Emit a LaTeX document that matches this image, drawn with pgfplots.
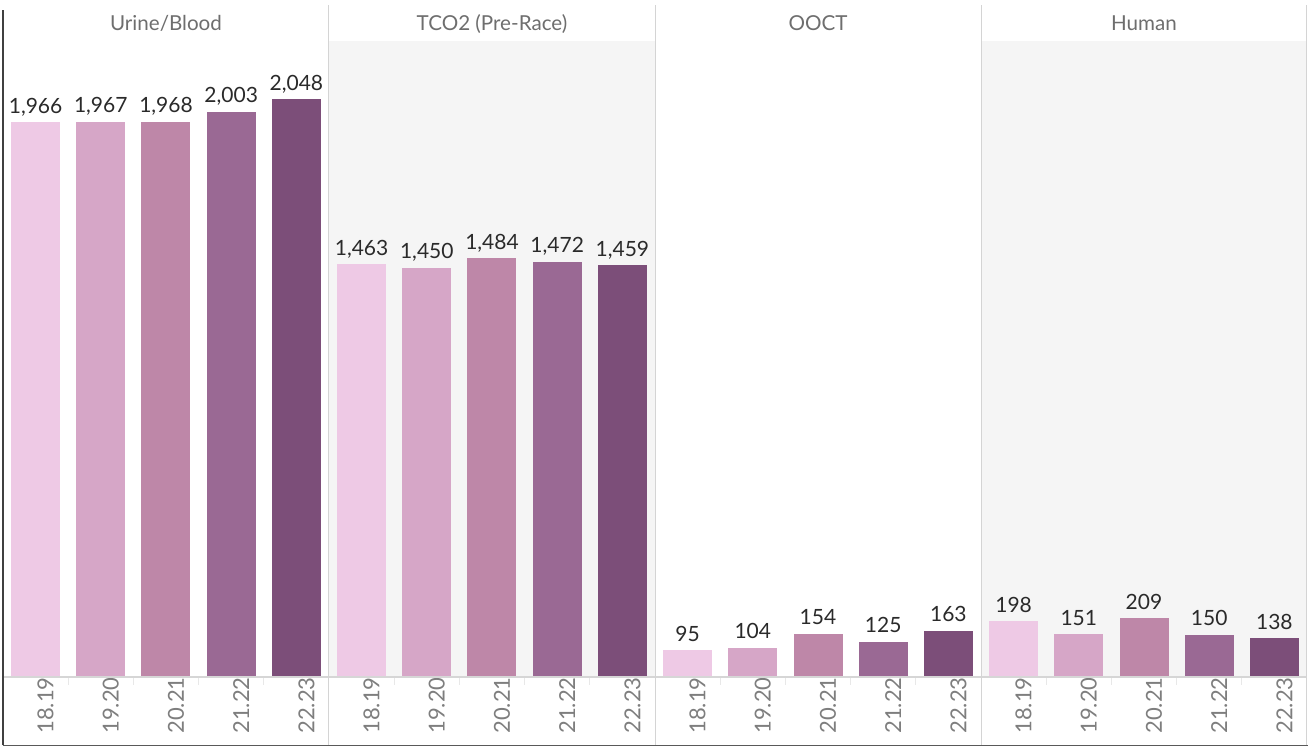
\documentclass[border=0pt]{standalone}
\usepackage{fontspec}
\setmainfont{Lato}
\usepackage{pgfplots}
\pgfplotsset{compat=1.18}
\definecolor{c1}{HTML}{EEC9E5}
\definecolor{c2}{HTML}{D6A6C7}
\definecolor{c3}{HTML}{BE87A8}
\definecolor{c4}{HTML}{9A6994}
\definecolor{c5}{HTML}{7C4E79}
\definecolor{bggray}{HTML}{F5F5F5}
\definecolor{sepgray}{HTML}{D4D4D4}
\definecolor{basegray}{HTML}{D6D6D6}
\definecolor{tickgray}{HTML}{E8E8E8}
\definecolor{headtext}{HTML}{6E6E6E}
\definecolor{ticktext}{HTML}{7E7E7E}
\definecolor{valtext}{HTML}{2A2A2A}
\pgfplotsset{
  panel/.style={
    width=163pt, height=318pt, scale only axis,
    anchor=south west,
    ybar, bar width=24.5pt, bar shift=0pt,
    xmin=-0.5, xmax=4.5, ymin=0, ymax=2254,
    enlargelimits=false,
    axis line style={draw=none},
    xtick={0,...,4},
    xticklabels={18.19,19.20,20.21,21.22,22.23},
    ytick=\empty,
    xtick pos=bottom,
    major tick length=0pt,
    extra x ticks={0.5,1.5,2.5,3.5},
    extra x tick labels={},
    extra x tick style={major tick length=4pt, tick align=outside, tick style={draw=tickgray, line width=0.6pt}},
    xticklabel style={rotate=90, anchor=east, font=\fontsize{11}{12}\selectfont, text=ticktext, inner sep=0pt, yshift=-5pt},
    nodes near coords,
    every node near coord/.append style={font=\fontsize{10.5}{12}\selectfont, text=valtext, anchor=base, yshift=4.5pt, inner sep=0pt},
    /pgf/number format/1000 sep={,},
    /pgf/number format/assume math mode=true,
    clip=false,
  },
  every axis plot/.append style={draw=none},
}
\begin{document}
\begin{tikzpicture}[x=0.5pt,y=0.5pt]
\useasboundingbox (0,0) rectangle (1308,747);
\fill[white] (0,0) rectangle (1308,747);
\fill[bggray] (329,70) rectangle (655,706);
\fill[bggray] (981,70) rectangle (1306,706);

\begin{axis}[panel, at={(1.5pt,35pt)}]
\addplot[fill=c1] coordinates {(0,1966)};
\addplot[fill=c2] coordinates {(1,1967)};
\addplot[fill=c3] coordinates {(2,1968)};
\addplot[fill=c4] coordinates {(3,2003)};
\addplot[fill=c5] coordinates {(4,2048)};
\draw[basegray, line width=1pt] (axis cs:-0.5,0) -- (axis cs:4.5,0);
\end{axis}

\begin{axis}[panel, at={(164.5pt,35pt)}]
\addplot[fill=c1] coordinates {(0,1463)};
\addplot[fill=c2] coordinates {(1,1450)};
\addplot[fill=c3] coordinates {(2,1484)};
\addplot[fill=c4] coordinates {(3,1472)};
\addplot[fill=c5] coordinates {(4,1459)};
\draw[basegray, line width=1pt] (axis cs:-0.5,0) -- (axis cs:4.5,0);
\end{axis}

\begin{axis}[panel, at={(327.5pt,35pt)}]
\addplot[fill=c1] coordinates {(0,95)};
\addplot[fill=c2] coordinates {(1,104)};
\addplot[fill=c3] coordinates {(2,154)};
\addplot[fill=c4] coordinates {(3,125)};
\addplot[fill=c5] coordinates {(4,163)};
\draw[basegray, line width=1pt] (axis cs:-0.5,0) -- (axis cs:4.5,0);
\end{axis}

\begin{axis}[panel, at={(490.5pt,35pt)}]
\addplot[fill=c1] coordinates {(0,198)};
\addplot[fill=c2] coordinates {(1,151)};
\addplot[fill=c3] coordinates {(2,209)};
\addplot[fill=c4] coordinates {(3,150)};
\addplot[fill=c5] coordinates {(4,138)};
\draw[basegray, line width=1pt] (axis cs:-0.5,0) -- (axis cs:4.5,0);
\end{axis}

% headers
\node[anchor=base, text=headtext, font=\fontsize{10.3}{12}\selectfont, inner sep=0pt] at (166,716) {Urine/Blood};
\node[anchor=base, text=headtext, font=\fontsize{10.3}{12}\selectfont, inner sep=0pt] at (492,716) {TCO2 (Pre-Race)};
\node[anchor=base, text=headtext, font=\fontsize{10.3}{12}\selectfont, inner sep=0pt] at (818,716) {OOCT};
\node[anchor=base, text=headtext, font=\fontsize{10.3}{12}\selectfont, inner sep=0pt] at (1144,716) {Human};

% separators and borders
\draw[sepgray, line width=0.9pt] (328.5,2) -- (328.5,742);
\draw[sepgray, line width=0.9pt] (655.5,2) -- (655.5,742);
\draw[sepgray, line width=0.9pt] (981.5,2) -- (981.5,742);
\draw[sepgray, line width=0.9pt] (1306.5,2) -- (1306.5,742);
\draw[black!75, line width=0.9pt] (3,1.5) -- (3,737);
\draw[black!65, line width=0.9pt] (3,1.5) -- (1308,1.5);
\end{tikzpicture}
\end{document}
